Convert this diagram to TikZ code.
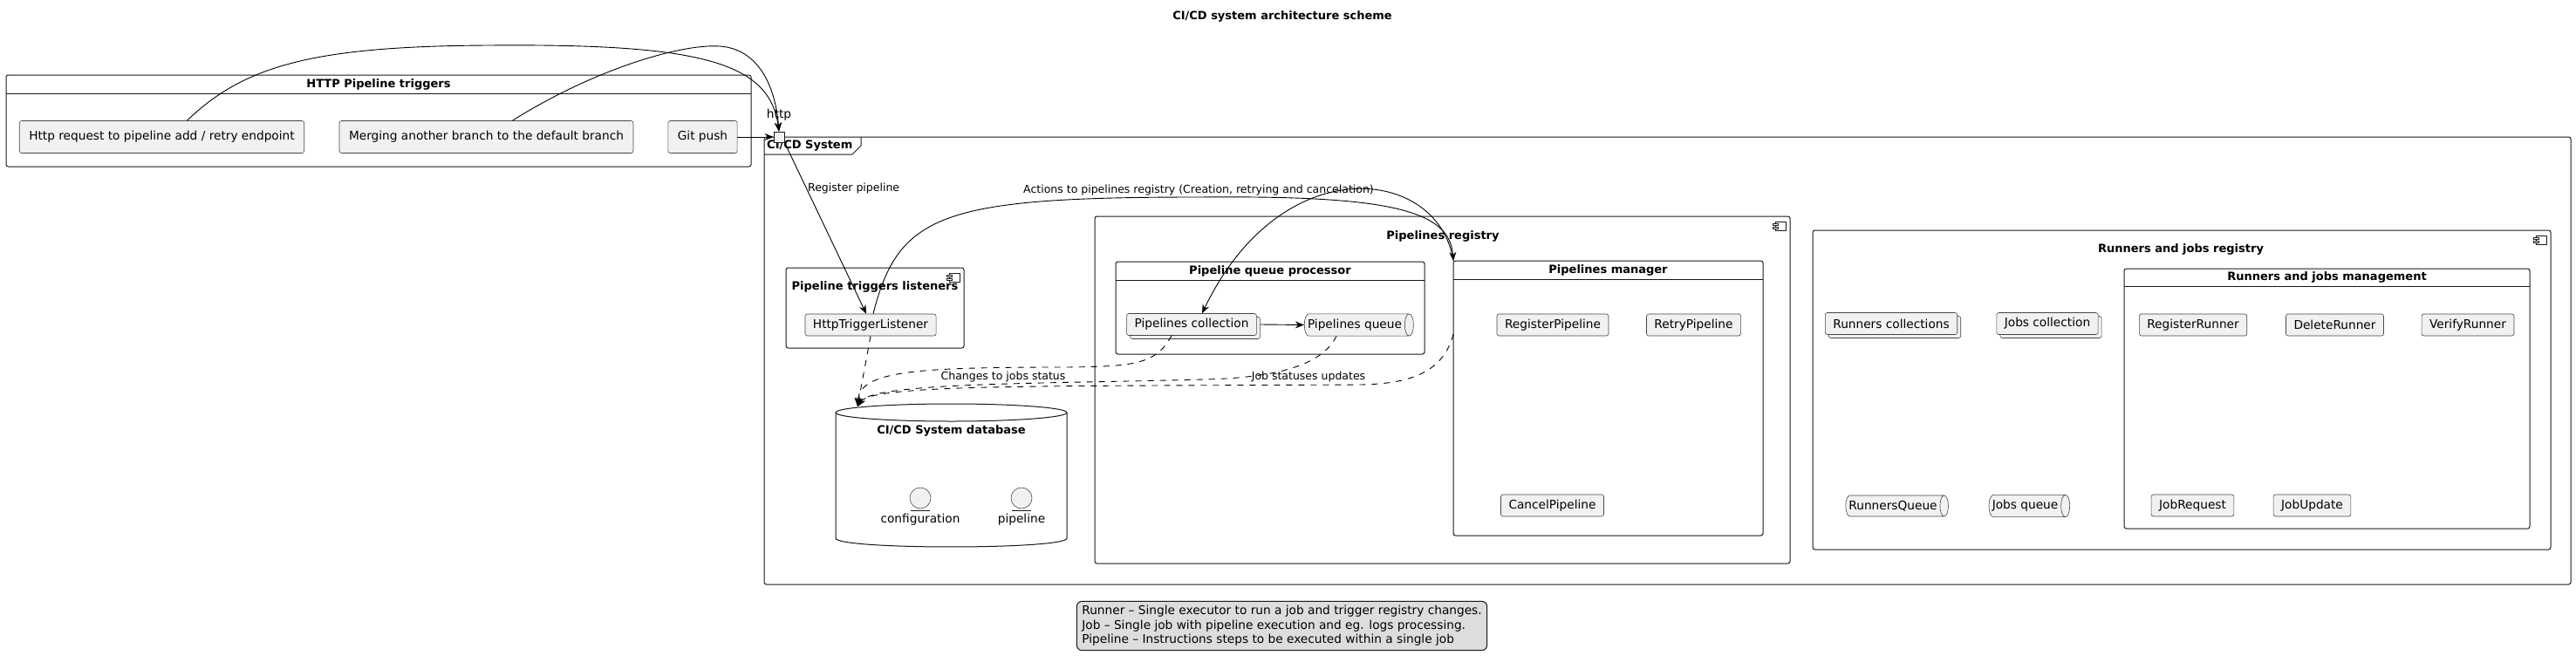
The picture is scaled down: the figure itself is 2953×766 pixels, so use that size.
\documentclass[tikz,border=0pt]{standalone}
\usepackage{fontspec}
\setmainfont{DejaVu Sans}
\usetikzlibrary{arrows.meta,shapes.geometric,shadows,positioning}
\definecolor{boxfill}{HTML}{F1F1F1}
\definecolor{boxline}{HTML}{181818}
\definecolor{notefill}{HTML}{DDDDDD}
\newcommand{\txt}{\fontsize{13.7}{16.5}\selectfont}
\newcommand{\boldtxt}{\fontsize{13}{16}\selectfont\bfseries}
\newcommand{\smalltxt}{\fontsize{12.5}{15}\selectfont}
% little component glyph in the top right corner of a group
\newcommand{\compicon}[1]{%
  \draw[boxline, line width=0.7pt, fill=white] ([shift={(-17,6)}]#1.north east) rectangle ([shift={(-5,16)}]#1.north east);
  \draw[boxline, line width=0.7pt, fill=white] ([shift={(-20,8)}]#1.north east) rectangle ([shift={(-14,10.5)}]#1.north east);
  \draw[boxline, line width=0.7pt, fill=white] ([shift={(-20,12)}]#1.north east) rectangle ([shift={(-14,14.5)}]#1.north east);}
\tikzset{
  box/.style={draw=boxline!80, fill=boxfill, rounded corners=2.5pt, line width=0.6pt, minimum height=25pt, inner xsep=9pt, font=\txt},
  bigbox/.style={box, minimum height=37pt, inner xsep=11pt},
  grp/.style={draw=boxline, line width=1pt, rounded corners=2.5pt, inner sep=0pt, outer sep=0pt},
  ttl/.style={font=\boldtxt, inner sep=0pt},
  lbl/.style={font=\smalltxt, inner sep=1pt},
  coll/.style={box, general shadow={shadow xshift=4pt, shadow yshift=-4pt, fill=boxfill, draw=boxline!80, line width=0.6pt}},
  queue/.style={cylinder, shape border rotate=0, aspect=0.4, draw=boxline!80, fill=boxfill, line width=0.6pt, inner xsep=3pt, inner ysep=6pt, font=\txt},
  ent/.style={circle, draw=boxline!80, fill=boxfill, line width=0.6pt, minimum size=24pt, inner sep=0pt},
  link/.style={->, line width=0.9pt},
  dep/.style={->, line width=0.9pt, dash pattern=on 7pt off 7pt}
}
\begin{document}
\begin{tikzpicture}[x=1pt, y=-1pt, line join=round, >={Stealth[length=10pt,width=8pt]}]
\useasboundingbox (0,0) rectangle (2953,766);
\node[ttl] (title) at (1470,19) {CI/CD system architecture scheme};

% outer groups
\node[grp, minimum width=854, minimum height=105] (httpTriggers) at (434,138.5) {};
\draw[grp] ([yshift=-21pt]httpTriggers.north west) -- ([yshift=-21pt]httpTriggers.north east);
\node[ttl] (httpTriggersTtl) at (434,97) {HTTP Pipeline triggers};

\node[grp, minimum width=2071, minimum height=513] (cicd) at (1911.5,413.5) {};
\draw[line width=1pt, boxline] ([shift={(0,20)}]cicd.north west) -- ([shift={(101,20)}]cicd.north west) -- ([shift={(111,10)}]cicd.north west) -- ([shift={(111,0)}]cicd.north west);
\node[ttl, anchor=west] (cicdTtl) at (879,167) {CI/CD System};

% components
\node[grp, minimum width=204, minimum height=92] (listeners) at (1003,353) {};
\node[ttl] (listenersTtl) at (1003,329) {Pipeline triggers listeners};
\compicon{listeners}
\node[grp, minimum width=797, minimum height=398] (pipelinesRegistry) at (1653.5,447) {};
\node[ttl] (pipelinesRegistryTtl) at (1654,271) {Pipelines registry};
\compicon{pipelinesRegistry}
\node[grp, minimum width=846, minimum height=366] (runnersRegistry) at (2501,447) {};
\node[ttl] (runnersRegistryTtl) at (2500,286) {Runners and jobs registry};
\compicon{runnersRegistry}

% cards with a header line
\node[grp, minimum width=354, minimum height=106] (queueProcessor) at (1456,353) {};
\draw[grp] ([yshift=-21pt]queueProcessor.north west) -- ([yshift=-21pt]queueProcessor.north east);
\node[ttl] (queueProcessorTtl) at (1456,311) {Pipeline queue processor};
\node[grp, minimum width=355, minimum height=315] (pipelinesManager) at (1843.5,456.5) {};
\draw[grp] ([yshift=-21pt]pipelinesManager.north west) -- ([yshift=-21pt]pipelinesManager.north east);
\node[ttl] (pipelinesManagerTtl) at (1843.5,310) {Pipelines manager};
\node[grp, minimum width=465, minimum height=298] (runnersMgmt) at (2667.5,457) {};
\draw[grp] ([yshift=-20pt]runnersMgmt.north west) -- ([yshift=-20pt]runnersMgmt.north east);
\node[ttl] (runnersMgmtTtl) at (2667.5,318) {Runners and jobs management};

% database
\draw[line width=1pt, boxline, fill=white] (958,473) -- (958,617) .. controls (958,630.3) and (1223,630.3) .. (1223,617) -- (1223,473);
\draw[line width=1pt, boxline, fill=white] (1090.5,473) ellipse [x radius=132.5, y radius=10];
\node[ttl] (dbTtl) at (1090.5,494) {CI/CD System database};
\coordinate (dbIn) at (983,466);
\node[ent] (cfgEnt) at (1055,571) {};
\draw[boxline, line width=0.6pt] ([shift={(-11,2)}]cfgEnt.south) -- ([shift={(11,2)}]cfgEnt.south);
\node[font=\txt, inner sep=0pt] (cfgLbl) at (1055,596) {configuration};
\node[ent] (pipeEnt) at (1171,571) {};
\draw[boxline, line width=0.6pt] ([shift={(-11,2)}]pipeEnt.south) -- ([shift={(11,2)}]pipeEnt.south);
\node[font=\txt, inner sep=0pt] (pipeLbl) at (1171,596) {pipeline};

% elements
\node[bigbox] (httpReq) at (185.5,157) {Http request to pipeline add / retry endpoint};
\node[bigbox] (mergeReq) at (557.5,157) {Merging another branch to the default branch};
\node[bigbox] (gitPush) at (805.5,157) {Git push};
\node[box] (httpListener) at (998,372.5) {HttpTriggerListener};
\node[coll] (pipelinesColl) at (1366,372) {Pipelines collection};
\node[queue] (pipelinesQueue) at (1553,372.5) {Pipelines queue};
\node[box] (registerPipeline) at (1780,372.5) {RegisterPipeline};
\node[box] (retryPipeline) at (1941.5,372.5) {RetryPipeline};
\node[box] (cancelPipeline) at (1779.5,579.5) {CancelPipeline};
\node[coll] (runnersColl) at (2168,371) {Runners collections};
\node[coll] (jobsColl) at (2347,371) {Jobs collection};
\node[queue] (runnersQueue) at (2170,580) {RunnersQueue};
\node[queue] (jobsQueue) at (2321.5,580) {Jobs queue};
\node[box] (registerRunner) at (2514,372.5) {RegisterRunner};
\node[box] (deleteRunner) at (2676.5,372.5) {DeleteRunner};
\node[box] (verifyRunner) at (2829,372.5) {VerifyRunner};
\node[box] (jobRequest) at (2513.5,579.5) {JobRequest};
\node[box] (jobUpdate) at (2650.5,579.5) {JobUpdate};

% port on the system frame
\node[draw=boxline, fill=boxfill, line width=0.8pt, minimum size=12pt, inner sep=0pt] (port) at (893,157) {};
\node[font=\txt, inner sep=0pt] (portLbl) at (893,132) {http};

% connectors
\draw[link] ([xshift=29pt]httpReq.north) .. controls (280,75) and (360,53) .. (560,52) .. controls (800,50) and (882,70) .. (port.north);
\draw[link] ([xshift=30pt]mergeReq.north) .. controls (680,80) and (780,50) .. (825,53) .. controls (870,56) and (889,100) .. (port.north);
\draw[link] (gitPush.east) -- (port.west);
\draw[link] (port.south east) -- ([xshift=-5pt]httpListener.north) node[lbl, pos=0.27, anchor=west] (regLbl) {Register pipeline};
\draw[link] ([xshift=3pt]httpListener.north) .. controls (1030,245) and (1080,226) .. (1374,226) node[lbl, above] (actLbl) {Actions to pipelines registry (Creation, retrying and cancelation)} .. controls (1590,224) and (1662,240) .. (pipelinesManager.north west);
\draw[link] (pipelinesManager.north west) .. controls (1650,192) and (1470,168) .. ([xshift=12pt]pipelinesColl.north);
\draw[link] ([xshift=4pt]pipelinesColl.east) -- (pipelinesQueue.west);

\draw[dep] (httpListener.south) -- (dbIn);
\draw[dep] ([xshift=-23pt]pipelinesColl.south) .. controls (1325,418) and (1300,420) .. (1223,421) .. controls (1050,421) and (985,425) .. (dbIn);
\draw[dep] ([xshift=-21pt]pipelinesQueue.south) .. controls (1515,420) and (1460,433) .. (1381,435) .. controls (1200,440) and (1000,438) .. (dbIn);
\draw[dep] ([yshift=-84pt]pipelinesManager.north west) .. controls (1655,425) and (1620,440) .. (1560,441) .. controls (1200,443) and (1000,440) .. (dbIn);
\node[lbl] (chgLbl) at (1150,432) {Changes to jobs status};
\node[lbl] (statLbl) at (1500,432) {Job statuses updates};

% legend
\node[draw=boxline, fill=notefill, rounded corners=6pt, line width=1pt, align=left, inner xsep=6pt, inner ysep=5pt, font=\txt] (legendBox) at (1469.5,717.5) {Runner – Single executor to run a job and trigger registry changes.\\Job – Single job with pipeline execution and eg. logs processing.\\Pipeline – Instructions steps to be executed within a single job};
\end{tikzpicture}
\end{document}
